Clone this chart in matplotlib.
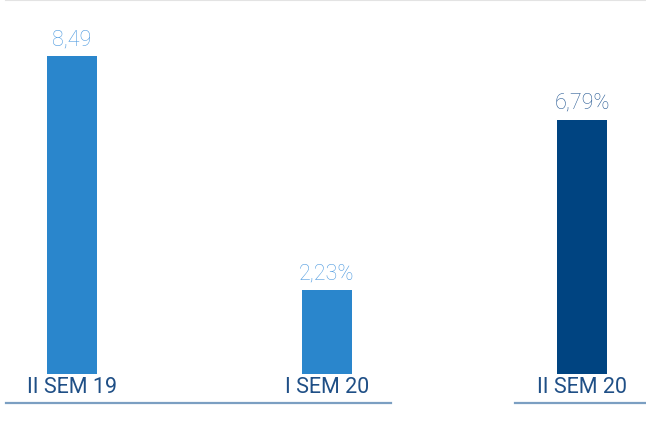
import matplotlib
matplotlib.use("Agg")
import matplotlib.pyplot as plt
from matplotlib.lines import Line2D

categories = ["II SEM 19", "I SEM 20", "II SEM 20"]
values = [8.49, 2.23, 6.79]
value_labels = ["8,49", "2,23%", "6,79%"]
positions = [0, 1, 2]

bar_colors = ["#2a86cc", "#2a86cc", "#004481"]
label_colors = ["#4f9be0", "#4f9be0", "#2a5c95"]
cat_color = "#1f4f86"

W, H = 646, 439
fig = plt.figure(figsize=(W / 100, H / 100), dpi=100)
ax = fig.add_axes([0, 0, 1, 1])

ppu_x = 255.0
x0 = 72.0
ax.set_xlim(-x0 / ppu_x, (W - x0) / ppu_x)
ppu_y = 318 / values[0]
base = 375.0
ax.set_ylim(-(H - base) / ppu_y, base / ppu_y)

ax.bar(positions, values, width=50 / ppu_x, color=bar_colors, zorder=2)

for p, v, t, c in zip(positions, values, value_labels, label_colors):
    ax.annotate(t, (p, v), xytext=(0, 5), textcoords="offset points",
                ha="center", va="bottom", fontsize=15.5, color=c,
                family="Roboto", fontweight="light")

for p, c in zip(positions, categories):
    ax.text(p, -13 / ppu_y, c, ha="center", va="center", fontsize=15.5,
            color=cat_color, family="Roboto", fontweight="normal")

ax.axis("off")

# decorative lines in figure pixel coords
def hline(x1, x2, y, color, lw):
    fig.add_artist(Line2D([x1 / W, x2 / W], [1 - y / H, 1 - y / H],
                          transform=fig.transFigure, color=color, lw=lw))

hline(6, 646, 1, "#e3e3e3", 1.5)
hline(6, 391, 404, "#7b9fc2", 1.6)
hline(515, 646, 404, "#7b9fc2", 1.6)

fig.savefig("out.png", dpi=100)
